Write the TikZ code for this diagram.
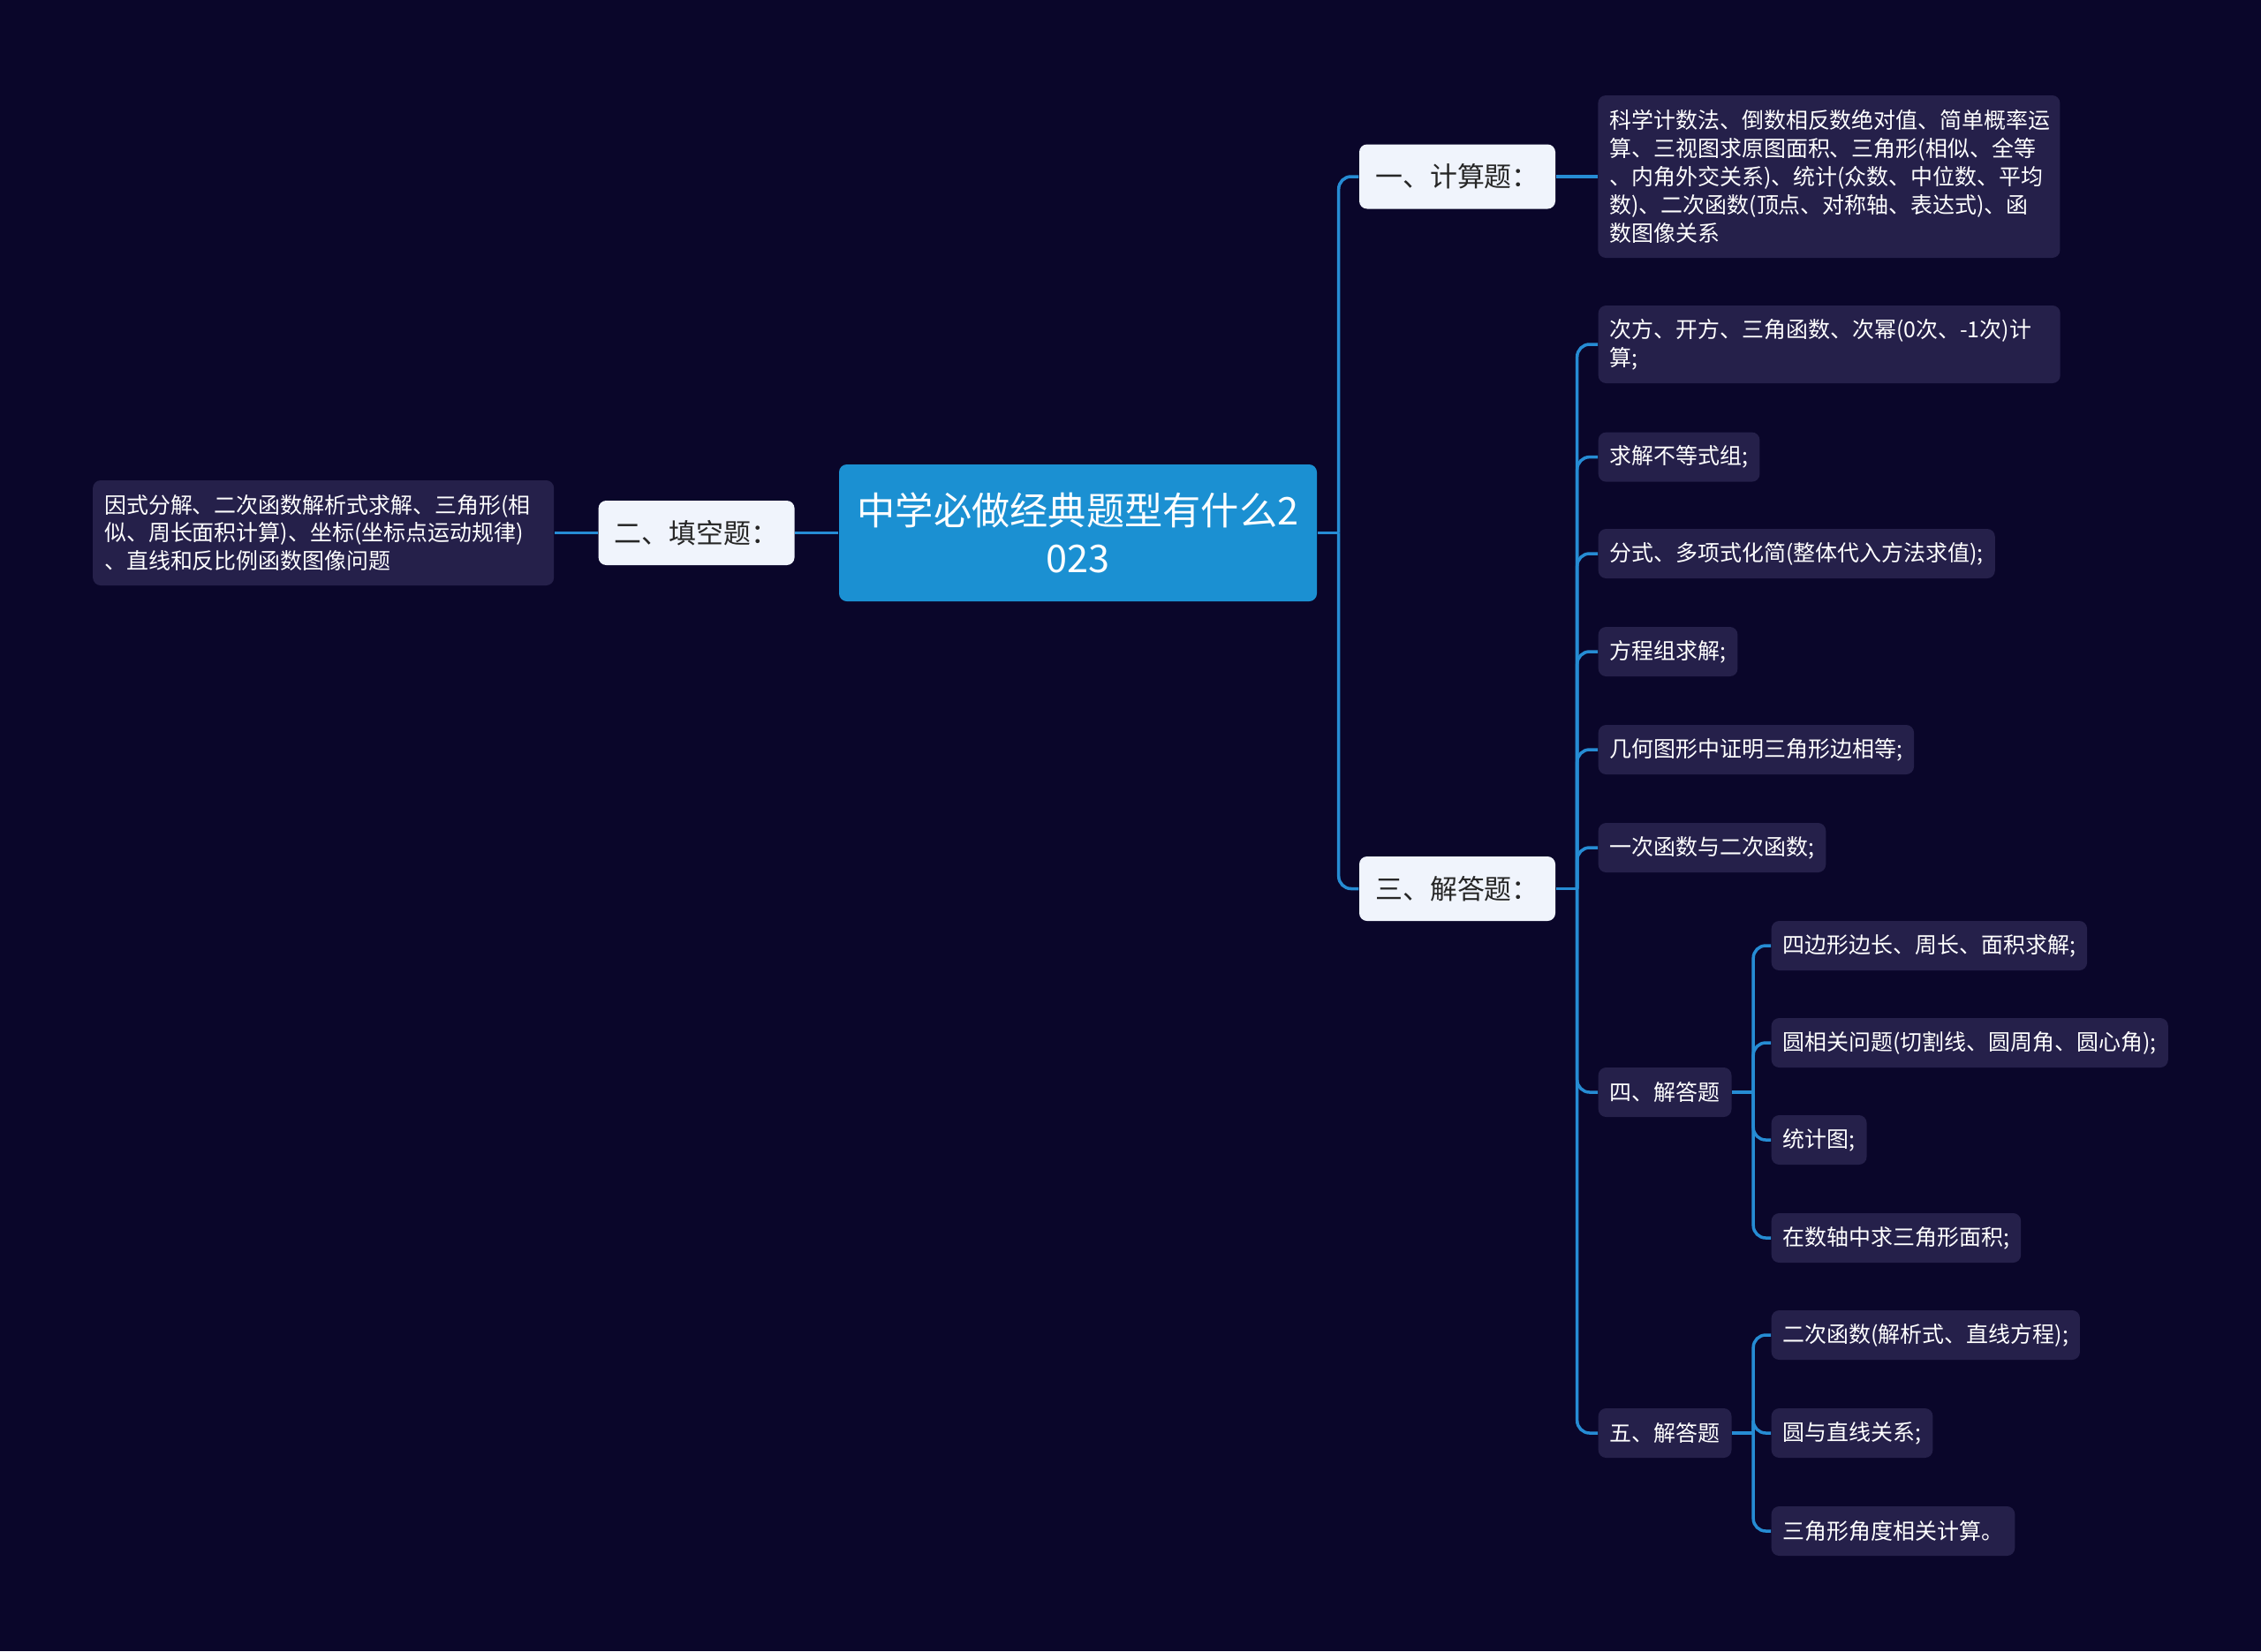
\documentclass[tikz,border=0pt]{standalone}
\usepackage{fontspec}
\newfontfamily\cjk{Noto Sans CJK SC}
\usepackage{xcolor}
\usepackage{tikz}
\usetikzlibrary{positioning}

\definecolor{bgcol}{RGB}{10,6,42}
\definecolor{leafcol}{RGB}{37,32,74}
\definecolor{catcol}{RGB}{240,244,252}
\definecolor{rootcol}{RGB}{27,144,210}
\definecolor{linkcol}{RGB}{38,140,212}

\begin{document}
\begin{tikzpicture}[
    mainbox/.style={fill=rootcol, rounded corners=2.5pt, text=white, align=center,
                    minimum width=5.41cm, minimum height=1.55cm, inner xsep=1pt,
                    font=\cjk\fontsize{12.3}{15.4}\selectfont},
    catbox/.style={fill=catcol, rounded corners=2.5pt, text=black!85,
                   minimum width=2.22cm, minimum height=0.73cm,
                   font=\cjk\fontsize{8.8}{10}\selectfont},
    leafbox/.style={fill=leafcol, rounded corners=2.5pt, text=white, anchor=west,
                    inner xsep=3.7pt, minimum height=0.56cm,
                    font=\cjk\fontsize{7.1}{9.1}\selectfont},
    link/.style={linkcol, line width=1pt, rounded corners=4pt}]
  \useasboundingbox (0,0) rectangle (25.6,-18.7);
  \fill[bgcol] (0,0) rectangle (25.6,-18.7);
  % centre topic
  \node[mainbox] (root) at (12.205,-6.035) {中学必做经典题型有什么2\\023};
  % left branch
  \node[catbox, left=0.49cm of root] (cat2) {二、填空题：};
  \node[leafbox, anchor=east, text width=4.96cm, align=left, minimum height=1.19cm,
        left=0.49cm of cat2] (fill1)
    {因式分解、二次函数解析式求解、三角形(相\\似、周长面积计算)、坐标(坐标点运动规律)\\、直线和反比例函数图像问题};
  % right branches
  \node[catbox] (cat1) at (16.50,-2.00) {一、计算题：};
  \node[catbox] (cat3) at (16.50,-10.065) {三、解答题：};
  \node[leafbox, text width=4.97cm, align=left, minimum height=1.84cm,
        right=0.47cm of cat1] (calc1)
    {科学计数法、倒数相反数绝对值、简单概率运\\算、三视图求原图面积、三角形(相似、全等\\、内角外交关系)、统计(众数、中位数、平均\\数)、二次函数(顶点、对称轴、表达式)、函\\数图像关系};
  % answers under cat3
  \node[leafbox, text width=4.97cm, align=left, minimum height=0.88cm] (s1) at (18.09,-3.90)
    {次方、开方、三角函数、次幂(0次、-1次)计\\算;};
  \node[leafbox] (s2) at (18.09,-5.176) {求解不等式组;};
  \node[leafbox] (s3) at (18.09,-6.27) {分式、多项式化简(整体代入方法求值);};
  \node[leafbox] (s4) at (18.09,-7.38) {方程组求解;};
  \node[leafbox] (s5) at (18.09,-8.49) {几何图形中证明三角形边相等;};
  \node[leafbox] (s6) at (18.09,-9.60) {一次函数与二次函数;};
  \node[leafbox] (s7) at (18.09,-12.37) {四、解答题};
  \node[leafbox] (s8) at (18.09,-16.23) {五、解答题};
  % under s7
  \node[leafbox] (f1) at (20.05,-10.71) {四边形边长、周长、面积求解;};
  \node[leafbox] (f2) at (20.05,-11.81) {圆相关问题(切割线、圆周角、圆心角);};
  \node[leafbox] (f3) at (20.05,-12.91) {统计图;};
  \node[leafbox] (f4) at (20.05,-14.02) {在数轴中求三角形面积;};
  % under s8
  \node[leafbox] (g1) at (20.05,-15.12) {二次函数(解析式、直线方程);};
  \node[leafbox] (g2) at (20.05,-16.23) {圆与直线关系;};
  \node[leafbox] (g3) at (20.05,-17.34) {三角形角度相关计算。};
  % links: stub from parent, then elbow to each child
  \draw[link] (root.west) -- (cat2.east);
  \draw[link] (cat2.west) -- (fill1.east);
  \draw[link] (cat1.east) -- (calc1.west);
  \draw[link] (root.east) -- ++(0.24,0) coordinate (t0);
  \draw[link] (t0) |- (cat1.west);
  \draw[link] (t0) |- (cat3.west);
  \draw[link] (cat3.east) -- ++(0.24,0) coordinate (t3);
  \draw[link] (t3) |- (s1.west);
  \draw[link] (t3) |- (s2.west);
  \draw[link] (t3) |- (s3.west);
  \draw[link] (t3) |- (s4.west);
  \draw[link] (t3) |- (s5.west);
  \draw[link] (t3) |- (s6.west);
  \draw[link] (t3) |- (s7.west);
  \draw[link] (t3) |- (s8.west);
  \draw[link] (s7.east) -- ++(0.24,0) coordinate (t7);
  \draw[link] (t7) |- (f1.west);
  \draw[link] (t7) |- (f2.west);
  \draw[link] (t7) |- (f3.west);
  \draw[link] (t7) |- (f4.west);
  \draw[link] (s8.east) -- ++(0.24,0) coordinate (t8);
  \draw[link] (t8) |- (g1.west);
  \draw[link] (t8) |- (g2.west);
  \draw[link] (t8) |- (g3.west);
\end{tikzpicture}
\end{document}
